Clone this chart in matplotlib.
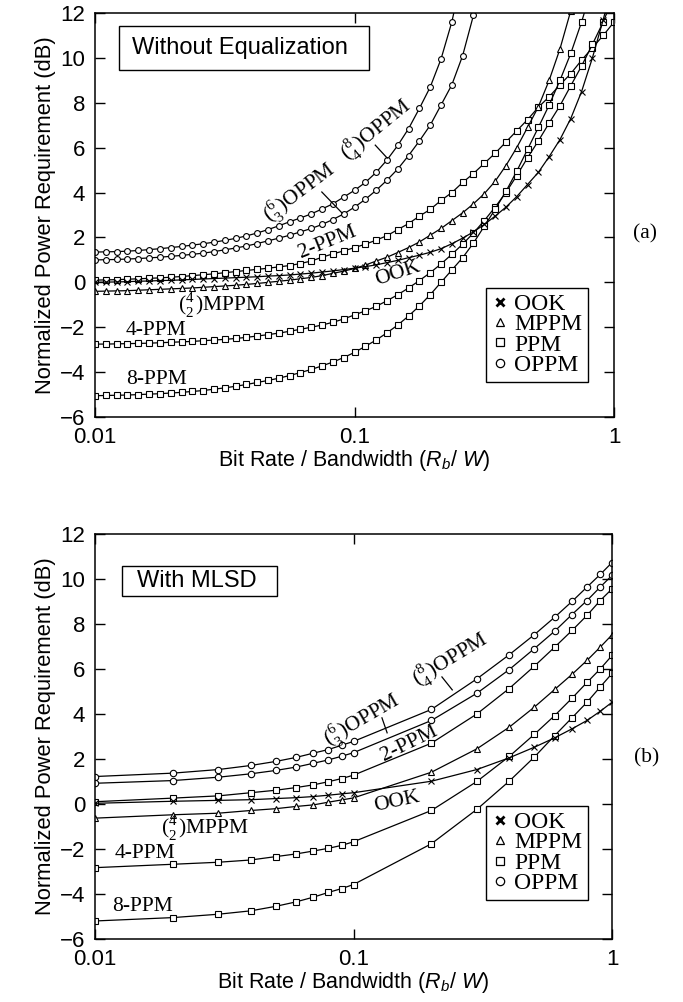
import numpy as np
import matplotlib
matplotlib.use('Agg')
import matplotlib.pyplot as plt
from matplotlib.lines import Line2D
from matplotlib.patches import Rectangle
from matplotlib.ticker import NullLocator

plt.rcParams['font.family'] = ['Liberation Sans', 'DejaVu Sans']
plt.rcParams['mathtext.fontset'] = 'custom'
plt.rcParams['mathtext.rm'] = 'Liberation Serif'
plt.rcParams['mathtext.it'] = 'Liberation Sans:italic'

# ---------- (a) without equalization, 24 points per decade ----------
xa = np.logspace(-2, 0, 49)

ook_a = [0.00, 0.01, 0.02, 0.03, 0.05, 0.06, 0.08, 0.09, 0.11, 0.13, 0.15, 0.17,
         0.19, 0.21, 0.23, 0.25, 0.28, 0.30, 0.33, 0.37, 0.41, 0.46, 0.51, 0.57,
         0.63, 0.70, 0.78, 0.88, 0.98, 1.10, 1.21, 1.34, 1.50, 1.72, 1.97, 2.25,
         2.58, 2.95, 3.35, 3.82, 4.36, 4.90, 5.60, 6.36, 7.30, 8.50, 10.0, 11.7, 13.6]
mppm_a = [-0.40, -0.39, -0.38, -0.37, -0.35, -0.33, -0.31, -0.29, -0.27, -0.25,
          -0.22, -0.19, -0.16, -0.13, -0.09, -0.05, 0.00, 0.05, 0.10, 0.16, 0.22,
          0.30, 0.40, 0.50, 0.62, 0.77, 0.95, 1.12, 1.33, 1.55, 1.80, 2.10, 2.40,
          2.75, 3.10, 3.50, 3.95, 4.50, 5.20, 6.00, 6.90, 7.82, 9.00, 10.4, 12.1]
ppm2_a = [0.10, 0.11, 0.12, 0.14, 0.16, 0.18, 0.20, 0.23, 0.26, 0.30, 0.34, 0.38,
          0.43, 0.48, 0.53, 0.58, 0.63, 0.69, 0.75, 0.84, 0.95, 1.12, 1.27, 1.40,
          1.55, 1.70, 1.88, 2.08, 2.35, 2.62, 2.95, 3.25, 3.65, 4.00, 4.45, 4.85,
          5.30, 5.75, 6.25, 6.75, 7.25, 7.80, 8.27, 8.80, 9.30, 9.90, 10.45, 11.0, 11.6]
ppm4_a = [-2.75, -2.75, -2.74, -2.73, -2.72, -2.71, -2.69, -2.67, -2.65, -2.63,
          -2.60, -2.57, -2.54, -2.50, -2.45, -2.39, -2.33, -2.26, -2.18, -2.09,
          -2.00, -1.90, -1.78, -1.63, -1.45, -1.27, -1.07, -0.82, -0.55, -0.25,
          0.08, 0.43, 0.82, 1.25, 1.70, 2.20, 2.75, 3.35, 4.00, 4.75, 5.55, 6.30,
          7.10, 7.87, 8.76, 9.64, 10.6, 11.6, 12.8]
ppm8_a = [-5.05, -5.04, -5.03, -5.02, -5.00, -4.98, -4.96, -4.93, -4.90, -4.86,
          -4.82, -4.76, -4.70, -4.63, -4.55, -4.46, -4.37, -4.27, -4.15, -4.02,
          -3.88, -3.72, -3.55, -3.35, -3.12, -2.85, -2.57, -2.25, -1.90, -1.50,
          -1.05, -0.55, 0.00, 0.55, 1.10, 1.75, 2.50, 3.25, 4.05, 4.95, 5.92, 6.90,
          7.90, 9.00, 10.2, 11.6, 13.2]
oppm63_a = [1.00, 1.01, 1.02, 1.04, 1.06, 1.09, 1.12, 1.16, 1.20, 1.25, 1.30, 1.37,
            1.45, 1.53, 1.62, 1.73, 1.85, 1.97, 2.10, 2.25, 2.40, 2.58, 2.80, 3.05,
            3.35, 3.70, 4.10, 4.55, 5.05, 5.65, 6.30, 7.00, 7.90, 8.80, 10.1, 11.9, 13.8]
oppm84_a = [1.35, 1.36, 1.37, 1.39, 1.42, 1.46, 1.50, 1.55, 1.60, 1.66, 1.72, 1.79,
            1.87, 1.96, 2.07, 2.20, 2.35, 2.52, 2.70, 2.87, 3.05, 3.27, 3.50, 3.80,
            4.10, 4.45, 4.90, 5.45, 6.10, 6.85, 7.75, 8.70, 9.95, 11.6, 13.8]

# ---------- (b) with MLSD ----------
xb = [0.01, 0.02, 0.03, 0.04, 0.05, 0.06, 0.07, 0.08, 0.09, 0.1,
      0.2, 0.3, 0.4, 0.5, 0.6, 0.7, 0.8, 0.9, 1.0]

ook_b = [0.03, 0.12, 0.16, 0.19, 0.24, 0.28, 0.33, 0.39, 0.45, 0.50,
         1.01, 1.53, 2.05, 2.52, 2.94, 3.34, 3.71, 4.12, 4.52]
mppm_b = [-0.63, -0.48, -0.41, -0.29, -0.21, -0.11, -0.04, 0.08, 0.18, 0.27,
          1.41, 2.45, 3.41, 4.30, 5.09, 5.76, 6.38, 6.97, 7.52]
ppm2_b = [0.10, 0.26, 0.36, 0.50, 0.61, 0.73, 0.85, 0.99, 1.13, 1.28,
          2.70, 4.00, 5.13, 6.12, 6.97, 7.71, 8.38, 9.04, 9.56]
ppm4_b = [-2.83, -2.68, -2.59, -2.49, -2.34, -2.22, -2.09, -1.97, -1.84, -1.68,
          -0.29, 1.00, 2.11, 3.09, 3.93, 4.70, 5.40, 6.00, 6.60]
ppm8_b = [-5.20, -5.05, -4.90, -4.75, -4.55, -4.35, -4.14, -3.93, -3.76, -3.58,
          -1.77, -0.24, 1.01, 2.08, 3.04, 3.83, 4.52, 5.20, 5.80]
oppm63_b = [0.92, 1.04, 1.19, 1.34, 1.49, 1.64, 1.81, 1.96, 2.12, 2.28,
            3.71, 4.92, 5.97, 6.90, 7.68, 8.42, 9.04, 9.64, 10.16]
oppm84_b = [1.22, 1.37, 1.53, 1.71, 1.89, 2.07, 2.26, 2.42, 2.61, 2.78,
            4.20, 5.56, 6.63, 7.52, 8.30, 9.00, 9.64, 10.20, 10.73]

legend_labels = ['OOK', 'MPPM', 'PPM', 'OPPM']

SERIF = ['Liberation Serif', 'DejaVu Serif']


def draw_curves(ax, x, series, ms):
    for y, m in series:
        n = len(y)
        if m == 'x':
            ax.plot(x[:n], y, color='k', lw=0.9, marker='x', ms=ms * 0.9, mew=0.8)
        else:
            ax.plot(x[:n], y, color='k', lw=0.9, marker=m, ms=ms, mfc='white',
                    mec='k', mew=0.8)


def style(ax):
    ax.set_xscale('log')
    ax.set_xlim(0.01, 1)
    ax.set_ylim(-6, 12)
    ax.set_yticks(range(-6, 13, 2))
    ax.set_xticks([0.01, 0.1, 1])
    ax.set_xticklabels(['0.01', '0.1', '1'])
    ax.xaxis.set_minor_locator(NullLocator())
    ax.tick_params(direction='in', length=7, width=1, top=True, right=True,
                   labelsize=16, pad=7)
    for s in ax.spines.values():
        s.set_linewidth(1.1)
    ax.set_xlabel('Bit Rate / Bandwidth ($R_b$/ $W$)', fontsize=15.5, labelpad=0)
    ax.set_ylabel('Normalized Power Requirement (dB)', fontsize=15.8, labelpad=3)


def legend(ax, anchor):
    hs = [Line2D([], [], ls='none', marker='x', color='k', ms=6, mew=2),
          Line2D([], [], ls='none', marker='^', mfc='white', mec='k', ms=6, mew=0.9),
          Line2D([], [], ls='none', marker='s', mfc='white', mec='k', ms=6, mew=0.9),
          Line2D([], [], ls='none', marker='o', mfc='white', mec='k', ms=6, mew=0.9)]
    leg = ax.legend(hs, legend_labels, loc='lower right', bbox_to_anchor=anchor,
                    borderaxespad=0, prop={'family': SERIF, 'size': 17},
                    fancybox=False, edgecolor='k', framealpha=1,
                    handlelength=0.7, handletextpad=0.25, labelspacing=-0.05,
                    borderpad=0.25)
    leg.get_frame().set_linewidth(1.0)


def label(ax, fx, fy, s, rot=0):
    ax.text(fx, fy, s, transform=ax.transAxes, ha='center', va='center',
            rotation=rot, rotation_mode='anchor', family=SERIF, fontsize=15.5)


def leader(ax, x0, y0, x1, y1):
    ax.plot([x0, x1], [y0, y1], color='k', lw=0.9, transform=ax.transAxes)


fig = plt.figure(figsize=(6.83, 10.02), dpi=100)
ax1 = fig.add_axes([0.1391, 0.5838, 0.7599, 0.4032])
ax2 = fig.add_axes([0.1391, 0.0629, 0.7570, 0.4042])

draw_curves(ax1, xa, [(oppm84_a, 'o'), (oppm63_a, 'o'), (ppm2_a, 's'), (ppm4_a, 's'),
                      (ppm8_a, 's'), (mppm_a, '^'), (ook_a, 'x')], 4.2)
draw_curves(ax2, xb, [(oppm84_b, 'o'), (oppm63_b, 'o'), (ppm2_b, 's'), (ppm4_b, 's'),
                      (ppm8_b, 's'), (mppm_b, '^'), (ook_b, 'x')], 4.6)

for ax in (ax1, ax2):
    style(ax)

# panel (a) annotations
ax1.add_patch(Rectangle((0.046, 0.859), 0.482, 0.109, transform=ax1.transAxes,
                        fc='white', ec='k', lw=1.0, zorder=3))
ax1.text(0.280, 0.913, 'Without Equalization', transform=ax1.transAxes,
         ha='center', va='center', fontsize=17, zorder=4)
legend(ax1, (0.95, 0.087))
label(ax1, 0.395, 0.554, r'$(\genfrac{}{}{0}{}{6}{3})$OPPM', 37)
label(ax1, 0.543, 0.710, r'$(\genfrac{}{}{0}{}{8}{4})$OPPM', 39)
leader(ax1, 0.437, 0.557, 0.476, 0.505)
leader(ax1, 0.540, 0.673, 0.563, 0.641)
label(ax1, 0.447, 0.431, '2-PPM', 22)
label(ax1, 0.584, 0.354, 'OOK', 18)
label(ax1, 0.245, 0.277, r'$(\genfrac{}{}{0}{}{4}{2})$MPPM')
label(ax1, 0.118, 0.215, '4-PPM')
label(ax1, 0.119, 0.094, '8-PPM')

# panel (b) annotations
ax2.add_patch(Rectangle((0.052, 0.847), 0.300, 0.074, transform=ax2.transAxes,
                        fc='white', ec='k', lw=1.0, zorder=3))
ax2.text(0.196, 0.884, 'With MLSD', transform=ax2.transAxes,
         ha='center', va='center', fontsize=17, zorder=4)
legend(ax2, (0.954, 0.096))
label(ax2, 0.516, 0.541, r'$(\genfrac{}{}{0}{}{6}{3})$OPPM', 30)
label(ax2, 0.687, 0.689, r'$(\genfrac{}{}{0}{}{8}{4})$OPPM', 31)
leader(ax2, 0.555, 0.546, 0.565, 0.509)
leader(ax2, 0.671, 0.647, 0.691, 0.615)
label(ax2, 0.607, 0.481, '2-PPM', 26)
label(ax2, 0.584, 0.338, 'OOK', 12)
label(ax2, 0.213, 0.274, r'$(\genfrac{}{}{0}{}{4}{2})$MPPM')
label(ax2, 0.097, 0.212, '4-PPM')
label(ax2, 0.091, 0.081, '8-PPM')

fig.text(0.944, 0.767, '(a)', ha='center', va='center', family=SERIF, fontsize=15.5)
fig.text(0.947, 0.244, '(b)', ha='center', va='center', family=SERIF, fontsize=15.5)

fig.savefig('out.png', dpi=100)
